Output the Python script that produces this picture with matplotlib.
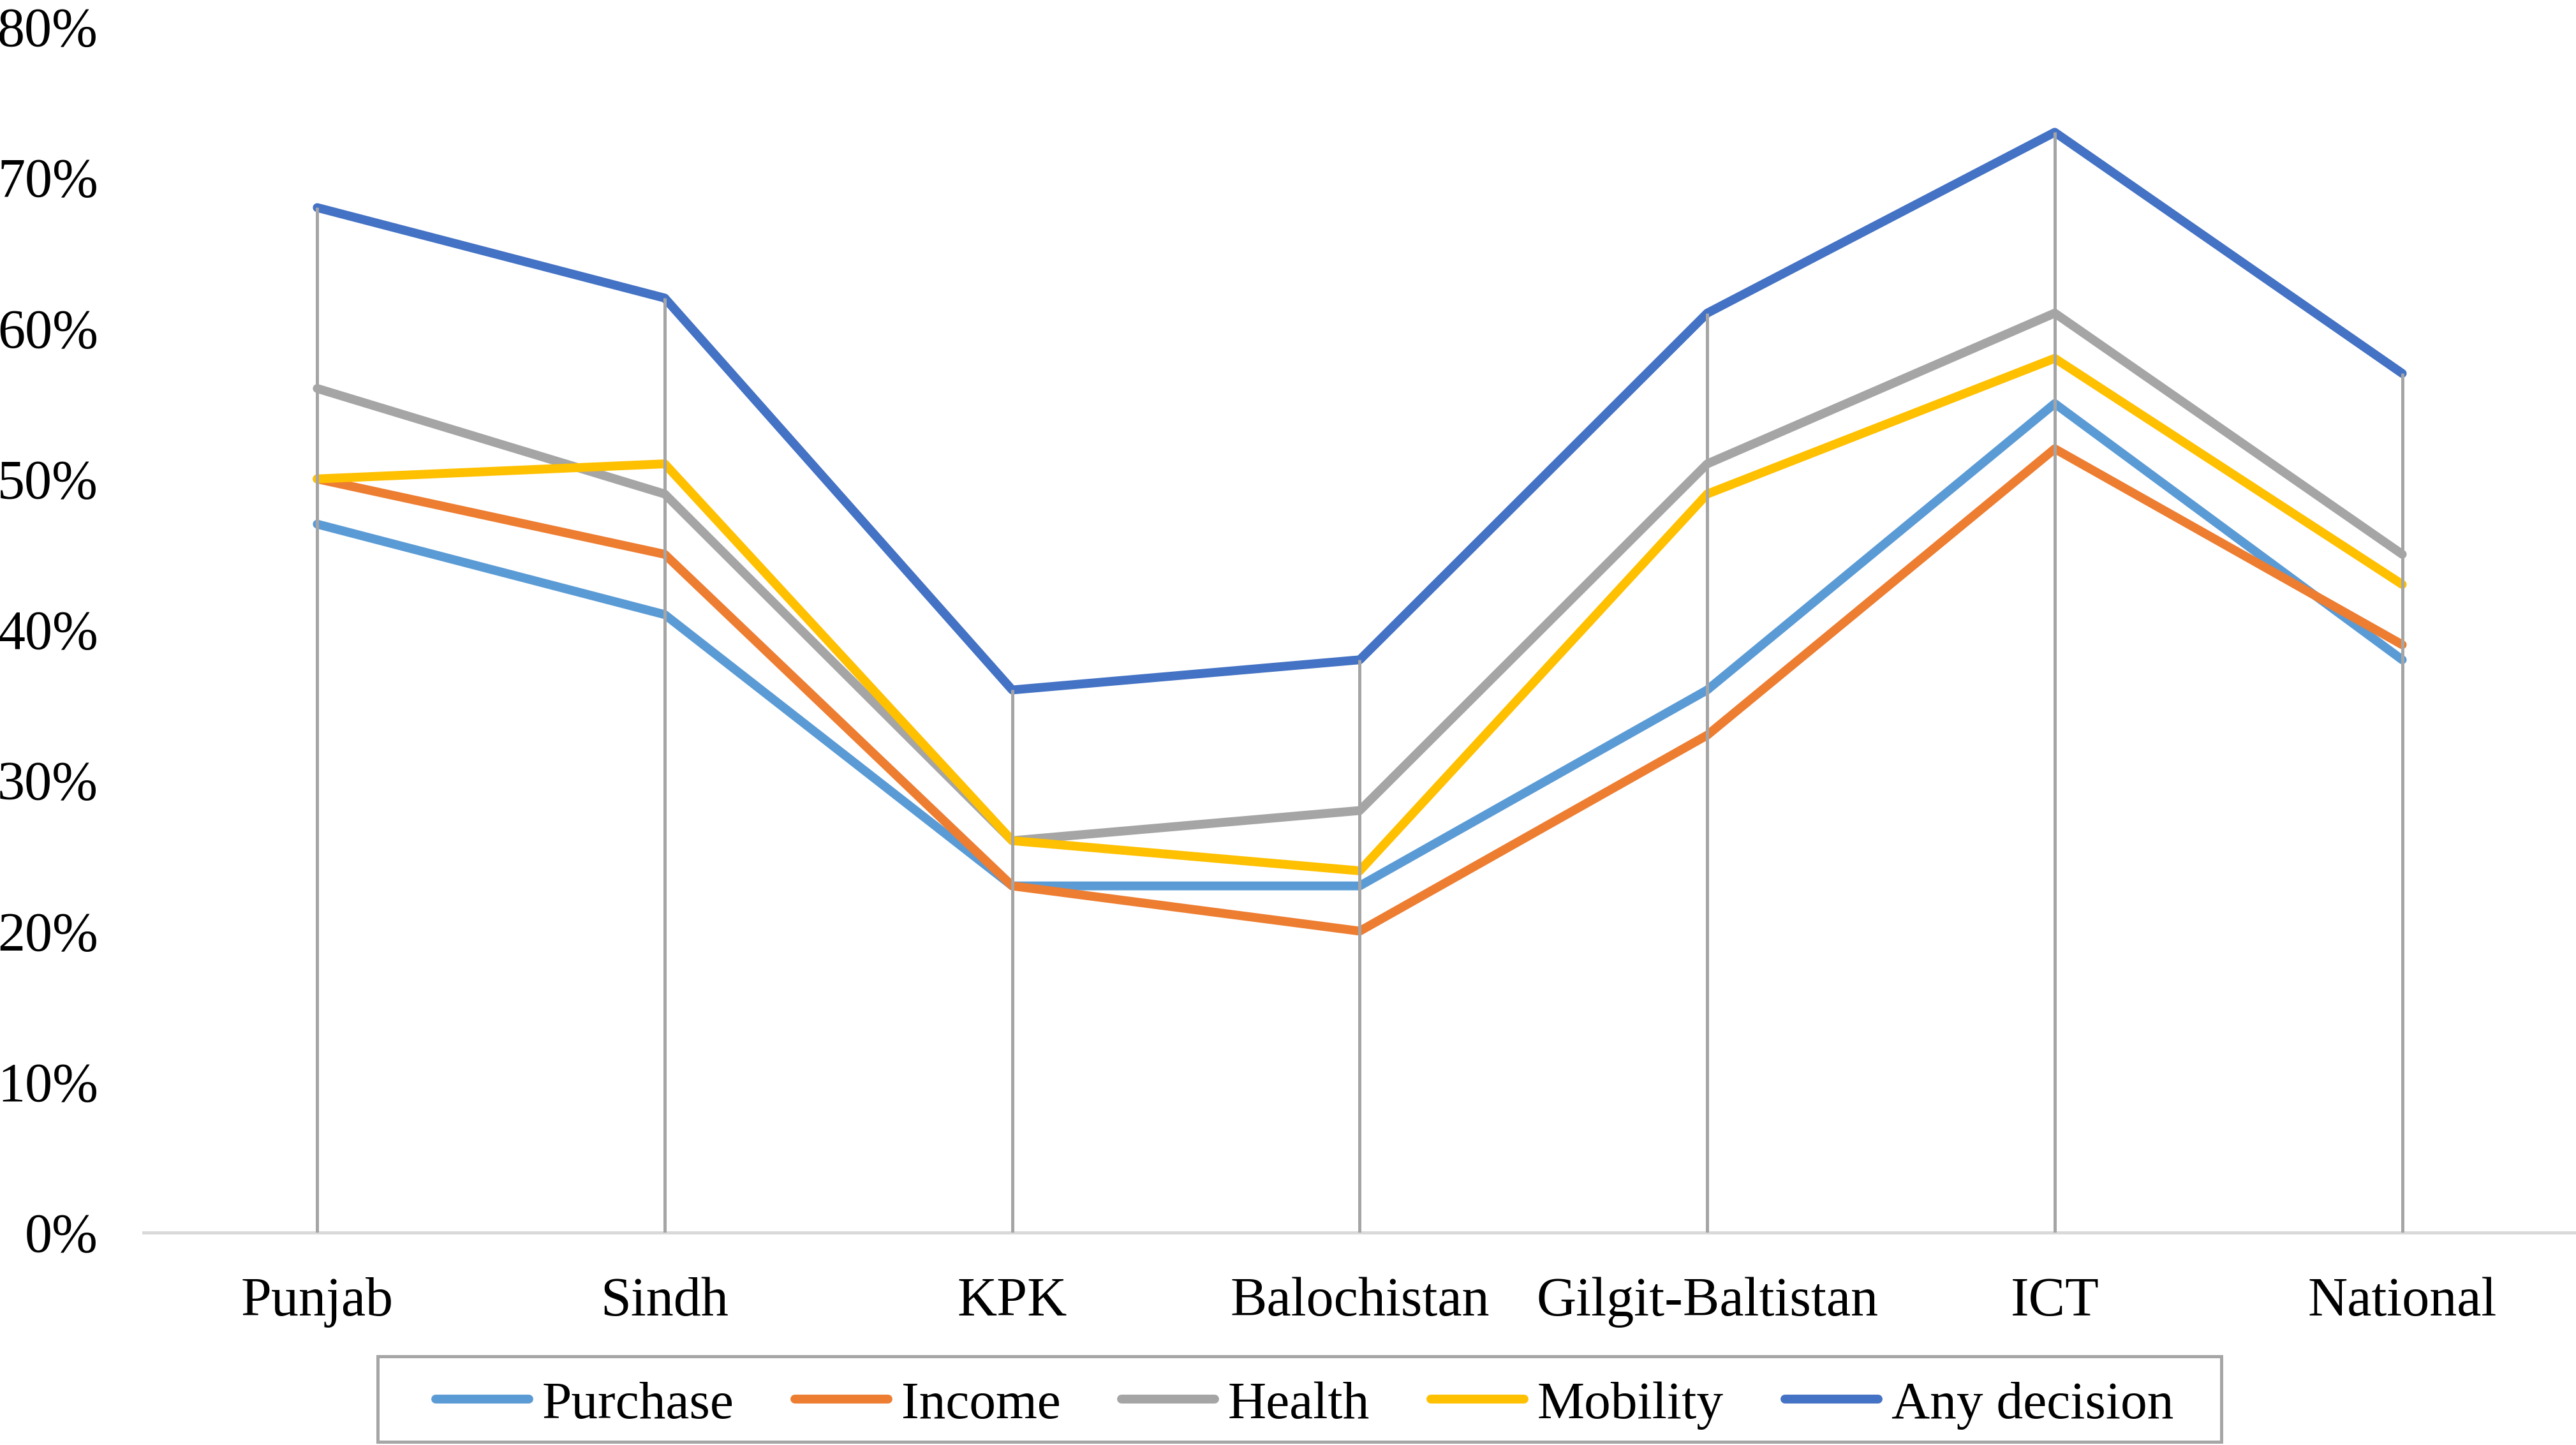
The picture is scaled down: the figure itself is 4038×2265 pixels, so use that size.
import matplotlib.pyplot as plt
from matplotlib.patches import Rectangle
import numpy as np

plt.rcParams['font.family'] = ['Liberation Serif', 'DejaVu Serif']

regions = ['Punjab', 'Sindh', 'KPK', 'Balochistan', 'Gilgit-Baltistan', 'ICT', 'National']
purchase = [47, 41, 23, 23, 36, 55, 38]
income = [50, 45, 23, 20, 33, 52, 39]
health = [56, 49, 26, 28, 51, 61, 45]
mobility = [50, 51, 26, 24, 49, 58, 43]
any_decision = [68, 62, 36, 38, 61, 73, 57]

series = [
    ('Purchase', purchase, '#5B9BD5'),
    ('Income', income, '#ED7D31'),
    ('Health', health, '#A5A5A5'),
    ('Mobility', mobility, '#FFC000'),
    ('Any decision', any_decision, '#4472C4'),
]

fig = plt.figure(figsize=(40.38, 22.65), dpi=100)
ax = fig.add_axes([0.0557, 0.147, 0.9443, 0.8345])

x = np.arange(len(regions))
for name, vals, col in series:
    ax.plot(x, vals, color=col, lw=10, label=name, solid_capstyle='round', zorder=2)

# drop lines from the highest series down to the axis
tops = np.max([s[1] for s in series], axis=0)
ax.vlines(x, 0, tops, color='#A5A5A5', lw=3.6, zorder=3)

ax.set_xlim(-0.5, len(regions) - 0.5)
ax.set_ylim(0, 80)
ax.set_yticks(range(0, 81, 10))
ax.set_yticklabels([f'{v}%' for v in range(0, 81, 10)])
ax.set_xticks(x)
ax.set_xticklabels(regions)
ax.tick_params(axis='y', length=0, pad=51, labelsize=62)
ax.tick_params(axis='x', length=0, pad=50, labelsize=62)

for s in ['top', 'right', 'left']:
    ax.spines[s].set_visible(False)
ax.spines['bottom'].set_color('#D9D9D9')
ax.spines['bottom'].set_linewidth(3.6)
ax.spines['bottom'].set_zorder(1)

# legend without its own frame; the box is drawn separately (wider side padding)
fig.legend(loc='center', bbox_to_anchor=(0.5064, 0.0276), ncol=5, fontsize=60,
           frameon=False, handlelength=1.75, handletextpad=0.25,
           columnspacing=1.15, borderpad=0.3)
fig.add_artist(Rectangle((0.1467, 0.002), 0.8622 - 0.1467, 0.0614 - 0.002,
                         transform=fig.transFigure, fill=False,
                         edgecolor='#A6A6A6', lw=3.6))

fig.savefig('out.png', dpi=100)
